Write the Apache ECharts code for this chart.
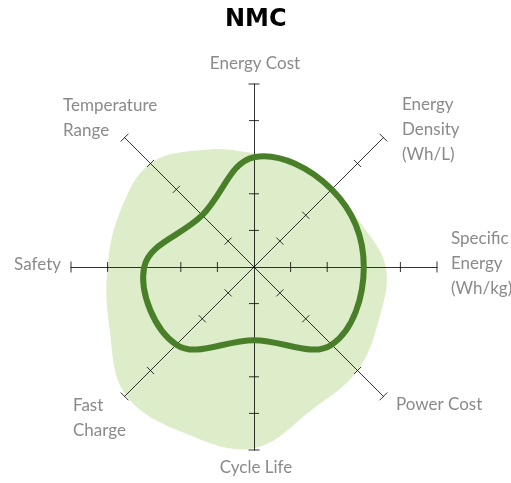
<!DOCTYPE html>
<html>
<head>
<meta charset="utf-8">
<script src="https://cdn.jsdelivr.net/npm/echarts@6/dist/echarts.min.js"></script>
<style>
  html, body { margin: 0; padding: 0; background: #fff; }
  #chart { width: 511px; height: 483px; }
</style>
</head>
<body>
<div id="chart"></div>
<script>
// axes, clockwise from the top
const categories = ['Energy Cost', 'Energy\nDensity\n(Wh/L)', 'Specific\nEnergy\n(Wh/kg)', 'Power Cost',
  'Cycle Life', 'Fast\nCharge', 'Safety', 'Temperature\nRange'];
const levels = [1, 2, 3, 4, 5];
// NMC rating on each axis
const nmcValues = [3, 3, 3, 3, 2, 3, 3, 2];
// light backdrop blob, read every half step clockwise from the top
const blobValues = [3.1, 3.05, 3.0, 3.15, 3.6, 3.7, 4.0, 4.2, 4.95, 4.92, 4.95, 4.28, 4.0, 3.96, 4.0, 3.47];

const maxLevel = levels[levels.length - 1];
const center = [254, 267];
const radius = 183;
const axisColor = 'rgba(0,0,0,0.8)';
// where each axis name sits
const labelPos = [
  { x: 255, y: 64, align: 'center' },
  { x: 402, y: 130, align: 'left' },
  { x: 451, y: 264, align: 'left' },
  { x: 396, y: 405, align: 'left' },
  { x: 256, y: 468, align: 'center' },
  { x: 73, y: 418, align: 'left' },
  { x: 61, y: 265, align: 'right' },
  { x: 63, y: 118, align: 'left' }
];

let myChart = echarts.init(document.getElementById('chart'));

function shape(vals, step, style, z) {
  return {
    type: 'custom',
    coordinateSystem: 'polar',
    silent: true,
    z: z,
    data: vals.map(function (v, i) { return [v, i * step]; }),
    renderItem: function (params, api) {
      if (params.dataIndex !== 0) return null;
      let pts = vals.map(function (v, i) { return api.coord([v, i * step]); });
      return { type: 'polygon', shape: { points: pts, smooth: 0.38 }, style: style };
    }
  };
}

// short cross ticks on every axis
let tickData = [];
categories.forEach(function (c, i) {
  levels.forEach(function (k) { tickData.push([k, i]); });
});

let tickSeries = {
  type: 'custom',
  coordinateSystem: 'polar',
  silent: true,
  z: 2,
  data: tickData,
  renderItem: function (params, api) {
    let p = api.coord([api.value(0), api.value(1)]);
    let o = api.coord([0, api.value(1)]);
    let dx = p[0] - o[0], dy = p[1] - o[1];
    let len = Math.sqrt(dx * dx + dy * dy);
    let half = api.value(0) === maxLevel ? 5.5 : 5;
    let nx = -dy / len * half, ny = dx / len * half;
    return {
      type: 'line',
      shape: { x1: p[0] + nx, y1: p[1] + ny, x2: p[0] - nx, y2: p[1] - ny },
      style: { stroke: axisColor, lineWidth: 1 }
    };
  }
};

let option = {
  animation: false,
  title: {
    text: 'NMC',
    left: 220,
    top: 3,
    textStyle: { fontFamily: 'DejaVu Sans', fontSize: 24, fontWeight: 'bold', color: '#000' }
  },
  polar: { center: center, radius: radius },
  angleAxis: { type: 'value', min: 0, max: categories.length, startAngle: 90, clockwise: true, show: false },
  radiusAxis: { type: 'value', min: 0, max: maxLevel, show: false },
  radar: {
    center: center,
    radius: radius,
    startAngle: 90,
    splitNumber: maxLevel,
    shape: 'polygon',
    z: 2,
    indicator: categories.map(function () { return { name: '', min: 0, max: maxLevel }; }),
    axisName: { show: false },
    splitLine: { show: false },
    splitArea: { show: false },
    axisTick: { show: false },
    axisLine: { show: true, lineStyle: { color: axisColor, width: 1 } }
  },
  graphic: categories.map(function (c, i) {
    return {
      type: 'text',
      x: labelPos[i].x,
      y: labelPos[i].y,
      silent: true,
      style: {
        text: c,
        align: labelPos[i].align,
        verticalAlign: 'middle',
        font: '17px Lato',
        lineHeight: 25,
        fill: '#8a8a8a'
      }
    };
  }),
  series: [
    shape(blobValues, 0.5, { fill: '#deedc9' }, 1),
    tickSeries,
    shape(nmcValues, 1, { fill: 'none', stroke: '#4a7f2a', lineWidth: 6 }, 3)
  ]
};
myChart.setOption(option);
window.addEventListener('resize', function () { myChart.resize(); });
</script>
</body>
</html>
